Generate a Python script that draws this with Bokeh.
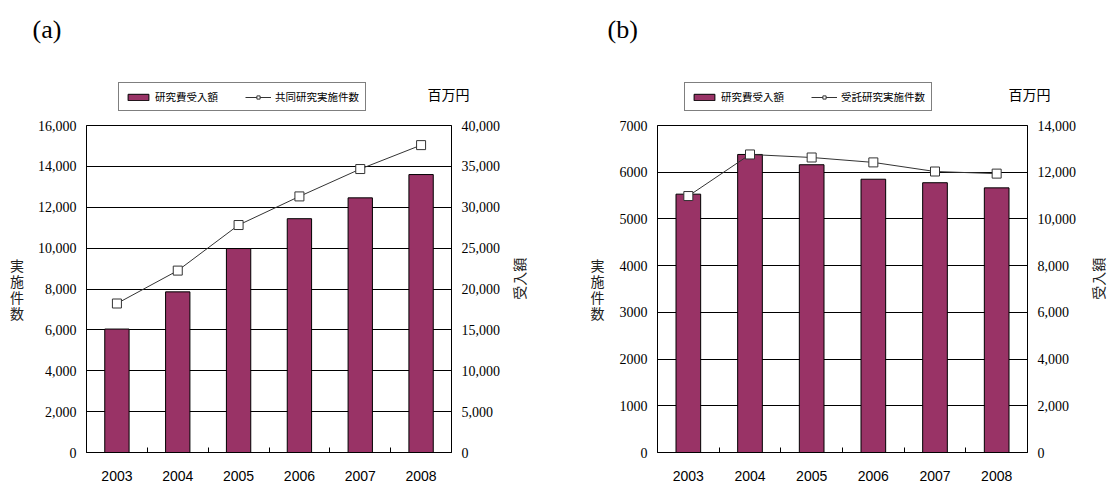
import math
from bokeh.plotting import figure
from bokeh.models import (Range1d, LinearAxis, FixedTicker, NumeralTickFormatter,
                          Legend, LegendItem, Label)
from bokeh.layouts import row, column
from bokeh.embed import file_html
from bokeh.resources import INLINE

# ---------------- data ----------------
years = ["2003", "2004", "2005", "2006", "2007", "2008"]

# (a) 共同研究
a_funds = [15100, 19650, 24950, 28600, 31150, 34000]   # 研究費受入額 (百万円)
a_count = [7290, 8900, 11130, 12530, 13870, 15040]     # 共同研究実施件数

# (b) 受託研究
b_funds = [11060, 12760, 12320, 11700, 11550, 11330]   # 研究費受入額 (百万円)
b_count = [5490, 6380, 6315, 6210, 6015, 5970]         # 受託研究実施件数

a_left_ticks = [0, 2000, 4000, 6000, 8000, 10000, 12000, 14000, 16000]
a_right_ticks = [0, 5000, 10000, 15000, 20000, 25000, 30000, 35000, 40000]
b_left_ticks = [0, 1000, 2000, 3000, 4000, 5000, 6000, 7000]
b_right_ticks = [0, 2000, 4000, 6000, 8000, 10000, 12000, 14000]

BAR_LABEL = "研究費受入額"
LINE_LABEL_A = "共同研究実施件数"
LINE_LABEL_B = "受託研究実施件数"
LEFT_TITLE = "実施件数"
RIGHT_TITLE = "受入額"
UNIT = "百万円"

JP = "Noto Sans CJK JP"
SERIF = "Liberation Serif"
SANS = "Liberation Sans"
BAR_COLOR = "#993366"
LINE_COLOR = "#333333"

HEADER_H = 115
TOTAL_W = 1107
MAIN_H = 484 - HEADER_H


def bare_figure(width, height):
    f = figure(width=width, height=height, x_range=Range1d(0, width),
               y_range=Range1d(height, 0), output_backend="svg",
               toolbar_location=None, x_axis_location=None, y_axis_location=None,
               min_border=0)
    f.grid.visible = False
    f.outline_line_color = None
    f.background_fill_color = "white"
    f.border_fill_color = "white"
    return f


def make_panel(funds, count, left_ticks, right_ticks, left_fmt,
               width, b_left, b_right, left_std):
    n = len(years)
    xs = [i + 0.5 for i in range(n)]
    bounds = [float(i) for i in range(1, n)]
    p = figure(width=width, height=MAIN_H, x_range=Range1d(0, n),
               y_range=Range1d(left_ticks[0], left_ticks[-1]),
               output_backend="svg", toolbar_location=None,
               min_border_left=b_left, min_border_right=b_right,
               min_border_top=10, min_border_bottom=32)
    p.extra_y_ranges = {"amt": Range1d(right_ticks[0], right_ticks[-1])}
    p.background_fill_color = "white"
    p.border_fill_color = "white"
    p.outline_line_color = "black"
    p.outline_line_width = 1

    p.xgrid.grid_line_color = None
    p.ygrid.grid_line_color = "black"
    p.ygrid.grid_line_width = 1
    p.ygrid.ticker = FixedTicker(ticks=left_ticks)

    xa = p.xaxis[0]
    xa.ticker = FixedTicker(ticks=xs, minor_ticks=bounds)
    xa.major_label_overrides = {x: y for x, y in zip(xs, years)}
    xa.major_tick_in = 0
    xa.major_tick_out = 0
    xa.minor_tick_in = 5
    xa.minor_tick_out = 0
    xa.minor_tick_line_color = "black"
    xa.axis_line_color = "black"
    xa.major_label_text_font = SANS
    xa.major_label_text_font_size = "14px"
    xa.major_label_text_color = "black"
    xa.major_label_standoff = 18

    ya = p.yaxis[0]
    ya.ticker = FixedTicker(ticks=left_ticks)
    ya.formatter = NumeralTickFormatter(format=left_fmt)
    ya.major_tick_in = 0
    ya.major_tick_out = 0
    ya.minor_tick_line_color = None
    ya.axis_line_color = "black"
    ya.major_label_text_font = SERIF
    ya.major_label_text_font_size = "14px"
    ya.major_label_text_color = "black"
    ya.major_label_standoff = 10
    ya.axis_label = "\n".join(LEFT_TITLE)
    ya.axis_label_orientation = "horizontal"
    ya.axis_label_text_font = JP
    ya.axis_label_text_font_size = "14px"
    ya.axis_label_text_font_style = "normal"
    ya.axis_label_text_color = "#222222"
    ya.axis_label_text_line_height = 0.8
    ya.axis_label_standoff = left_std

    ra = LinearAxis(y_range_name="amt", ticker=FixedTicker(ticks=right_ticks),
                    formatter=NumeralTickFormatter(format="0,0"))
    ra.major_tick_in = 0
    ra.major_tick_out = 0
    ra.minor_tick_line_color = None
    ra.axis_line_color = "black"
    ra.major_label_text_font = SERIF
    ra.major_label_text_font_size = "14px"
    ra.major_label_text_color = "black"
    ra.major_label_standoff = 10
    p.add_layout(ra, "right")

    p.vbar(x=xs, top=funds, width=0.4, bottom=0, y_range_name="amt",
           fill_color=BAR_COLOR, line_color="black", line_width=1)
    p.line(xs, count, line_color=LINE_COLOR, line_width=1)
    p.scatter(xs, count, marker="square", size=9, fill_color="white",
              line_color=LINE_COLOR, line_width=1)
    return p


def side_label(width, x):
    s = bare_figure(width, MAIN_H)
    s.add_layout(Label(x=x, y=173, text=RIGHT_TITLE, angle=math.pi / 2,
                       text_font=JP, text_font_size="14px", text_color="#222222",
                       text_align="center", text_baseline="middle"))
    return s


pa = make_panel(a_funds, a_count, a_left_ticks, a_right_ticks,
                "0,0", 505, 86, 54, 11)
sa = side_label(48, 13)
pb = make_panel(b_funds, b_count, b_left_ticks, b_right_ticks,
                "0", 529, 104, 55, 12)
sb = side_label(TOTAL_W - 505 - 48 - 529, 15)

# ---------------- header (panel tags, legends, unit) ----------------
hd = bare_figure(TOTAL_W, HEADER_H)


def add_legend(funds, count, line_label, x):
    n = len(years)
    xs = [i + 0.5 for i in range(n)]
    # legend proxies: same series, but they fall outside this header's range
    bars = hd.vbar(x=xs, top=funds, bottom=funds, width=0.4, fill_color=BAR_COLOR,
                   line_color="black", line_width=1)
    ln = hd.line(x=xs, y=count, line_color=LINE_COLOR, line_width=1)
    pts = hd.scatter(x=xs, y=count, marker="square", size=9, fill_color="white",
                     line_color=LINE_COLOR, line_width=1)
    lg = Legend(items=[LegendItem(label=BAR_LABEL, renderers=[bars]),
                       LegendItem(label=line_label, renderers=[ln, pts])],
                location=(x, HEADER_H - 111), orientation="horizontal")
    lg.border_line_color = "black"
    lg.border_line_width = 1
    lg.background_fill_color = "white"
    lg.background_fill_alpha = 1
    lg.label_text_font = JP
    lg.label_text_font_size = "10.5px"
    lg.label_text_color = "black"
    lg.glyph_width = 26
    lg.glyph_height = 8
    lg.label_height = 11
    lg.label_standoff = 4
    lg.spacing = 27
    lg.padding = 6
    lg.margin = 0
    hd.add_layout(lg, "center")


add_legend(a_funds, a_count, LINE_LABEL_A, 118)
add_legend(b_funds, b_count, LINE_LABEL_B, 684)

for tag, tx, ux in [("(a)", 32, 427), ("(b)", 607, 1008)]:
    hd.add_layout(Label(x=tx, y=29, text=tag, text_font=SERIF,
                        text_font_size="26px", text_color="black",
                        text_baseline="middle", text_align="left"))
    hd.add_layout(Label(x=ux, y=93, text=UNIT, text_font=JP,
                        text_font_size="14px", text_color="black",
                        text_baseline="middle", text_align="left"))

layout = column(hd, row(pa, sa, pb, sb))
open("out.html", "w").write(file_html(layout, INLINE))
